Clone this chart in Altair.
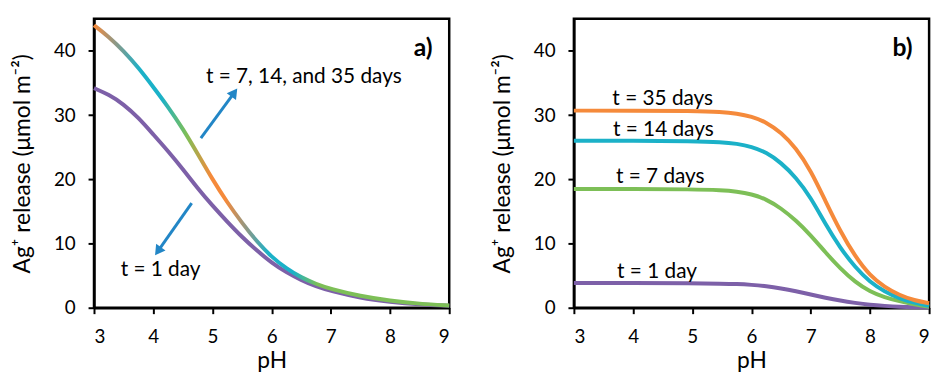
import altair as alt
import pandas as pd

# ---------------- data ----------------
# panel a
ph_a = [3.0, 3.25, 3.5, 3.75, 4.0, 4.25, 4.5, 4.75, 5.0, 5.25, 5.5, 5.75,
        6.0, 6.25, 6.5, 6.75, 7.0, 7.5, 8.0, 8.5, 9.0]
a_t1 = [34.2, 33.2, 31.7, 29.6, 27.0, 24.4, 21.6, 18.6, 15.9, 13.4, 11.0, 8.9,
        7.0, 5.5, 4.3, 3.3, 2.6, 1.5, 0.9, 0.5, 0.3]
a_t7_14_35 = [44.0, 42.2, 40.0, 37.4, 34.4, 31.3, 27.9, 24.0, 20.0, 16.4, 13.2, 10.3,
              7.9, 6.1, 4.7, 3.7, 2.9, 1.8, 1.1, 0.6, 0.35]

# panel b
ph_b = [3.0, 4.0, 5.0, 5.5, 5.75, 6.0, 6.25, 6.5, 6.75, 7.0, 7.25, 7.5,
        7.75, 8.0, 8.25, 8.5, 8.75, 9.0]
b_t1 = [3.85, 3.85, 3.8, 3.75, 3.7, 3.57, 3.37, 3.02, 2.57, 2.05, 1.55, 1.1,
        0.75, 0.45, 0.28, 0.15, 0.08, 0.05]
b_t7 = [18.5, 18.5, 18.45, 18.3, 18.1, 17.7, 16.9, 15.5, 13.6, 11.3, 8.6, 6.1,
        4.0, 2.5, 1.6, 1.0, 0.5, 0.15]
b_t14 = [26.0, 26.0, 25.95, 25.8, 25.55, 25.1, 24.2, 22.6, 20.3, 17.2, 13.0, 9.3,
         6.3, 4.0, 2.5, 1.45, 0.75, 0.3]
b_t35 = [30.7, 30.7, 30.65, 30.5, 30.25, 29.8, 28.9, 27.3, 24.9, 21.4, 16.6, 11.9,
         8.0, 5.0, 3.2, 1.95, 1.15, 0.7]

# annotations (data units)
a_text = ["t = 7, 14, and 35 days", "t = 1 day"]
a_text_ph = [4.89, 3.45]
a_text_val = [34.95, 4.94]

b_text = ["t = 35 days", "t = 14 days", "t = 7 days", "t = 1 day"]
b_text_ph = [3.65, 3.66, 3.71, 3.73]
b_text_val = [31.55, 26.8, 19.35, 4.7]

arrow_tail_ph = [4.805, 4.65]
arrow_tail_val = [26.4, 16.3]
arrow_head_ph = [5.37, 4.08]
arrow_head_val = [33.5, 8.8]
arrow_angle = [36.2, 215.3]

panel_labels = ["a)", "b)"]
panel_label_ph = 8.72
panel_label_val = 39.2

x_ticks = [3, 4, 5, 6, 7, 8, 9]
y_ticks = [0, 10, 20, 30, 40]

# ---------------- style ----------------
ORANGE = "#F58A3B"
CYAN = "#1BB1C8"
GREEN = "#7DBF57"
PURPLE = "#7D60A8"
GRAY = "#8E9886"
BLUE = "#2286C6"
FONT = "Lato"
LW = 4

W, H = 359, 292

xs = alt.Scale(domain=[3, 9], nice=False, zero=False)
ys = alt.Scale(domain=[0, 45], nice=False)


def X(field="ph"):
    return alt.X(f"{field}:Q", scale=xs, title="pH",
                 axis=alt.Axis(values=x_ticks, format="d", labelPadding=14,
                               titlePadding=3))


def Y(field="val"):
    return alt.Y(f"{field}:Q", scale=ys, title="Ag⁺ release (μmol m⁻²)",
                 axis=alt.Axis(values=y_ticks, labelPadding=13, titleX=-60))


def line(ph, vals, stroke):
    df = pd.DataFrame({"ph": ph, "val": vals})
    return alt.Chart(df).mark_line(interpolate="basis", strokeWidth=LW,
                                   stroke=stroke, strokeCap="butt").encode(x=X(), y=Y())


def texts(labels, ph, vals, size=21, weight="normal", align="left"):
    df = pd.DataFrame({"ph": ph, "val": vals, "txt": labels})
    return alt.Chart(df).mark_text(font=FONT, fontSize=size, fontWeight=weight,
                                   color="black", align=align,
                                   baseline="alphabetic").encode(
        x=X(), y=Y(), text="txt:N")


gradient = alt.Gradient(
    gradient="linear", x1=0, x2=1, y1=0, y2=0,
    stops=[
        alt.GradientStop(color=ORANGE, offset=0.0),
        alt.GradientStop(color=GRAY, offset=0.06),
        alt.GradientStop(color=CYAN, offset=0.13),
        alt.GradientStop(color=CYAN, offset=0.19),
        alt.GradientStop(color=GREEN, offset=0.26),
        alt.GradientStop(color=ORANGE, offset=0.33),
        alt.GradientStop(color=ORANGE, offset=0.37),
        alt.GradientStop(color=GRAY, offset=0.43),
        alt.GradientStop(color=CYAN, offset=0.49),
        alt.GradientStop(color=CYAN, offset=0.56),
        alt.GradientStop(color=GREEN, offset=0.63),
        alt.GradientStop(color=GREEN, offset=1.0),
    ],
)

arrows_df = pd.DataFrame({"ph": arrow_tail_ph, "val": arrow_tail_val,
                          "ph2": arrow_head_ph, "val2": arrow_head_val,
                          "ang": arrow_angle})
arrow_rules = alt.Chart(arrows_df).mark_rule(color=BLUE, strokeWidth=3).encode(
    x=X(), y=Y(), x2="ph2:Q", y2="val2:Q")
arrow_heads = alt.Chart(arrows_df).mark_point(
    shape="triangle-up", filled=True, size=135, color=BLUE, opacity=1).encode(
    x=X("ph2"), y=Y("val2"), angle=alt.Angle("ang:Q", scale=None))

panel_a = alt.layer(
    line(ph_a, a_t1, PURPLE),
    line(ph_a, a_t7_14_35, gradient),
    arrow_rules,
    arrow_heads,
    texts(a_text, a_text_ph, a_text_val),
    texts([panel_labels[0]], [panel_label_ph], [panel_label_val],
          size=25, weight="bold", align="right"),
).properties(width=W, height=H)

panel_b = alt.layer(
    line(ph_b, b_t1, PURPLE),
    line(ph_b, b_t7, GREEN),
    line(ph_b, b_t14, CYAN),
    line(ph_b, b_t35, ORANGE),
    texts(b_text, b_text_ph, b_text_val),
    texts([panel_labels[1]], [panel_label_ph], [panel_label_val],
          size=25, weight="bold", align="right"),
).properties(width=W, height=H)

chart = alt.hconcat(panel_a, panel_b, spacing=31).properties(
    padding={"left": 10, "top": 14, "right": 0, "bottom": 0},
    background="white",
).configure_view(stroke="black", strokeWidth=2.5).configure_axis(
    grid=False,
    domainColor="black", domainWidth=2.5,
    tickColor="black", tickWidth=2, tickSize=6,
    labelFont=FONT, labelFontSize=19, labelColor="black",
    titleFont=FONT, titleFontSize=23, titleFontWeight="normal", titleColor="black",
)

chart.save("out.html", embed_options={"renderer": "svg", "actions": False})
